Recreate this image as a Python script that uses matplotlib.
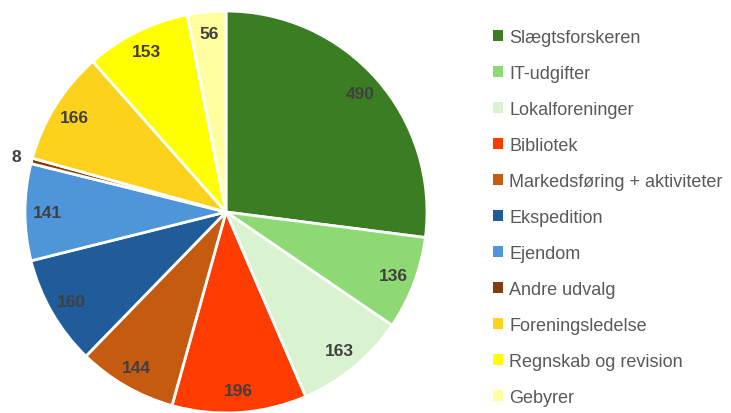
import numpy as np
import matplotlib.pyplot as plt
from matplotlib.patches import Patch

categories = ["Slægtsforskeren", "IT-udgifter", "Lokalforeninger", "Bibliotek",
              "Markedsføring + aktiviteter", "Ekspedition", "Ejendom", "Andre udvalg",
              "Foreningsledelse", "Regnskab og revision", "Gebyrer"]
values = [490, 136, 163, 196, 144, 160, 141, 8, 166, 153, 56]
colors = ["#3b7d23", "#8ed973", "#d9f2d0", "#ff3c00", "#c55a11", "#1f5c99",
          "#4e95d9", "#843c0c", "#fcd21c", "#ffff00", "#ffffa0"]

W, H = 731, 414
fig = plt.figure(figsize=(W / 100, H / 100), dpi=100)
fig.patch.set_facecolor("white")

# pie centre ~ (226, 213) px, radius ~ 201 px
cx, cy, r = 226, 213, 201
ax = fig.add_axes([(cx - r) / W, (H - cy - r) / H, 2 * r / W, 2 * r / H])

wedges, _ = ax.pie(values, colors=colors, startangle=90, counterclock=False,
                   radius=1, wedgeprops=dict(edgecolor="white", linewidth=2))
ax.set_xlim(-1, 1)
ax.set_ylim(-1, 1)
ax.axis("off")

total = sum(values)
cum = np.cumsum([0] + values[:-1])
for v, c in zip(values, cum):
    ang = np.deg2rad(90 - (c + v / 2) / total * 360)
    dist = 0.89 if v > 20 else 1.08
    ax.text(dist * np.cos(ang), dist * np.sin(ang), str(v), ha="center", va="center",
            fontsize=12.5, fontweight="bold", color="#404040", family="Liberation Sans")

handles = [Patch(facecolor=col, edgecolor="none") for col in colors]
fig.legend(handles, categories, loc="upper left", bbox_to_anchor=(484 / W, 1 - 21 / H),
           frameon=False, handlelength=0.55, handleheight=0.55, borderpad=0,
           handletextpad=0.35, labelspacing=1.05, labelcolor="#595959",
           prop=dict(family="Liberation Sans", size=13))

fig.savefig("out.png", dpi=100)
